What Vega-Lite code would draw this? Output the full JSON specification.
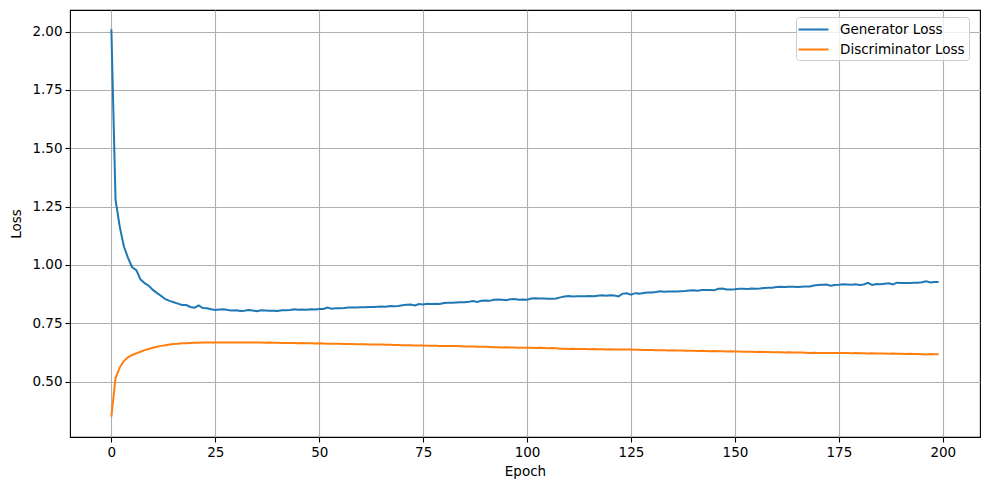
{
  "$schema": "https://vega.github.io/schema/vega-lite/v6.json",
  "autosize": "none",
  "width": 910,
  "height": 427,
  "padding": {"left": 70, "top": 10, "right": 9, "bottom": 53},
  "background": "white",
  "config": {
    "font": "DejaVu Sans",
    "view": {"stroke": "black", "strokeWidth": 1.1},
    "axis": {
      "domain": false,
      "grid": true,
      "gridColor": "#b0b0b0",
      "gridWidth": 1.1,
      "tickColor": "black",
      "tickSize": 5,
      "tickWidth": 1.1,
      "labelFont": "DejaVu Sans",
      "labelFontSize": 13.5,
      "labelColor": "black",
      "titleFont": "DejaVu Sans",
      "titleFontSize": 13.5,
      "titleFontWeight": "normal",
      "titleColor": "black",
      "labelPadding": 3
    }
  },
  "data": {
    "values": [
      {"epoch":0,"Generator Loss":2.010,"Discriminator Loss":0.350},
      {"epoch":1,"Generator Loss":1.280,"Discriminator Loss":0.515},
      {"epoch":2,"Generator Loss":1.165,"Discriminator Loss":0.560},
      {"epoch":3,"Generator Loss":1.080,"Discriminator Loss":0.588},
      {"epoch":4,"Generator Loss":1.030,"Discriminator Loss":0.604},
      {"epoch":5,"Generator Loss":0.990,"Discriminator Loss":0.614},
      {"epoch":6,"Generator Loss":0.978,"Discriminator Loss":0.621},
      {"epoch":7,"Generator Loss":0.938,"Discriminator Loss":0.628},
      {"epoch":8,"Generator Loss":0.922,"Discriminator Loss":0.635},
      {"epoch":9,"Generator Loss":0.911,"Discriminator Loss":0.640},
      {"epoch":10,"Generator Loss":0.893,"Discriminator Loss":0.645},
      {"epoch":11,"Generator Loss":0.879,"Discriminator Loss":0.649},
      {"epoch":12,"Generator Loss":0.867,"Discriminator Loss":0.653},
      {"epoch":13,"Generator Loss":0.853,"Discriminator Loss":0.656},
      {"epoch":14,"Generator Loss":0.846,"Discriminator Loss":0.659},
      {"epoch":15,"Generator Loss":0.840,"Discriminator Loss":0.661},
      {"epoch":16,"Generator Loss":0.834,"Discriminator Loss":0.662},
      {"epoch":17,"Generator Loss":0.828,"Discriminator Loss":0.664},
      {"epoch":18,"Generator Loss":0.828,"Discriminator Loss":0.664},
      {"epoch":19,"Generator Loss":0.820,"Discriminator Loss":0.665},
      {"epoch":20,"Generator Loss":0.817,"Discriminator Loss":0.666},
      {"epoch":21,"Generator Loss":0.826,"Discriminator Loss":0.666},
      {"epoch":22,"Generator Loss":0.815,"Discriminator Loss":0.667},
      {"epoch":23,"Generator Loss":0.814,"Discriminator Loss":0.667},
      {"epoch":24,"Generator Loss":0.810,"Discriminator Loss":0.668},
      {"epoch":25,"Generator Loss":0.807,"Discriminator Loss":0.668},
      {"epoch":26,"Generator Loss":0.809,"Discriminator Loss":0.667},
      {"epoch":27,"Generator Loss":0.810,"Discriminator Loss":0.668},
      {"epoch":28,"Generator Loss":0.807,"Discriminator Loss":0.668},
      {"epoch":29,"Generator Loss":0.805,"Discriminator Loss":0.668},
      {"epoch":30,"Generator Loss":0.806,"Discriminator Loss":0.667},
      {"epoch":31,"Generator Loss":0.803,"Discriminator Loss":0.668},
      {"epoch":32,"Generator Loss":0.804,"Discriminator Loss":0.667},
      {"epoch":33,"Generator Loss":0.807,"Discriminator Loss":0.667},
      {"epoch":34,"Generator Loss":0.805,"Discriminator Loss":0.667},
      {"epoch":35,"Generator Loss":0.802,"Discriminator Loss":0.667},
      {"epoch":36,"Generator Loss":0.806,"Discriminator Loss":0.667},
      {"epoch":37,"Generator Loss":0.805,"Discriminator Loss":0.666},
      {"epoch":38,"Generator Loss":0.804,"Discriminator Loss":0.667},
      {"epoch":39,"Generator Loss":0.804,"Discriminator Loss":0.666},
      {"epoch":40,"Generator Loss":0.803,"Discriminator Loss":0.666},
      {"epoch":41,"Generator Loss":0.806,"Discriminator Loss":0.665},
      {"epoch":42,"Generator Loss":0.806,"Discriminator Loss":0.665},
      {"epoch":43,"Generator Loss":0.807,"Discriminator Loss":0.665},
      {"epoch":44,"Generator Loss":0.810,"Discriminator Loss":0.665},
      {"epoch":45,"Generator Loss":0.808,"Discriminator Loss":0.664},
      {"epoch":46,"Generator Loss":0.809,"Discriminator Loss":0.665},
      {"epoch":47,"Generator Loss":0.808,"Discriminator Loss":0.664},
      {"epoch":48,"Generator Loss":0.810,"Discriminator Loss":0.664},
      {"epoch":49,"Generator Loss":0.809,"Discriminator Loss":0.663},
      {"epoch":50,"Generator Loss":0.811,"Discriminator Loss":0.664},
      {"epoch":51,"Generator Loss":0.811,"Discriminator Loss":0.663},
      {"epoch":52,"Generator Loss":0.817,"Discriminator Loss":0.662},
      {"epoch":53,"Generator Loss":0.812,"Discriminator Loss":0.662},
      {"epoch":54,"Generator Loss":0.814,"Discriminator Loss":0.662},
      {"epoch":55,"Generator Loss":0.814,"Discriminator Loss":0.662},
      {"epoch":56,"Generator Loss":0.815,"Discriminator Loss":0.661},
      {"epoch":57,"Generator Loss":0.817,"Discriminator Loss":0.661},
      {"epoch":58,"Generator Loss":0.818,"Discriminator Loss":0.661},
      {"epoch":59,"Generator Loss":0.818,"Discriminator Loss":0.660},
      {"epoch":60,"Generator Loss":0.819,"Discriminator Loss":0.660},
      {"epoch":61,"Generator Loss":0.819,"Discriminator Loss":0.660},
      {"epoch":62,"Generator Loss":0.820,"Discriminator Loss":0.659},
      {"epoch":63,"Generator Loss":0.820,"Discriminator Loss":0.659},
      {"epoch":64,"Generator Loss":0.821,"Discriminator Loss":0.659},
      {"epoch":65,"Generator Loss":0.822,"Discriminator Loss":0.659},
      {"epoch":66,"Generator Loss":0.821,"Discriminator Loss":0.658},
      {"epoch":67,"Generator Loss":0.824,"Discriminator Loss":0.658},
      {"epoch":68,"Generator Loss":0.823,"Discriminator Loss":0.657},
      {"epoch":69,"Generator Loss":0.824,"Discriminator Loss":0.657},
      {"epoch":70,"Generator Loss":0.827,"Discriminator Loss":0.656},
      {"epoch":71,"Generator Loss":0.829,"Discriminator Loss":0.656},
      {"epoch":72,"Generator Loss":0.830,"Discriminator Loss":0.656},
      {"epoch":73,"Generator Loss":0.826,"Discriminator Loss":0.655},
      {"epoch":74,"Generator Loss":0.832,"Discriminator Loss":0.655},
      {"epoch":75,"Generator Loss":0.830,"Discriminator Loss":0.655},
      {"epoch":76,"Generator Loss":0.834,"Discriminator Loss":0.654},
      {"epoch":77,"Generator Loss":0.833,"Discriminator Loss":0.654},
      {"epoch":78,"Generator Loss":0.834,"Discriminator Loss":0.654},
      {"epoch":79,"Generator Loss":0.833,"Discriminator Loss":0.653},
      {"epoch":80,"Generator Loss":0.837,"Discriminator Loss":0.653},
      {"epoch":81,"Generator Loss":0.838,"Discriminator Loss":0.652},
      {"epoch":82,"Generator Loss":0.838,"Discriminator Loss":0.652},
      {"epoch":83,"Generator Loss":0.839,"Discriminator Loss":0.652},
      {"epoch":84,"Generator Loss":0.840,"Discriminator Loss":0.651},
      {"epoch":85,"Generator Loss":0.840,"Discriminator Loss":0.650},
      {"epoch":86,"Generator Loss":0.842,"Discriminator Loss":0.650},
      {"epoch":87,"Generator Loss":0.845,"Discriminator Loss":0.650},
      {"epoch":88,"Generator Loss":0.841,"Discriminator Loss":0.649},
      {"epoch":89,"Generator Loss":0.846,"Discriminator Loss":0.649},
      {"epoch":90,"Generator Loss":0.848,"Discriminator Loss":0.649},
      {"epoch":91,"Generator Loss":0.846,"Discriminator Loss":0.648},
      {"epoch":92,"Generator Loss":0.851,"Discriminator Loss":0.647},
      {"epoch":93,"Generator Loss":0.852,"Discriminator Loss":0.647},
      {"epoch":94,"Generator Loss":0.851,"Discriminator Loss":0.646},
      {"epoch":95,"Generator Loss":0.849,"Discriminator Loss":0.647},
      {"epoch":96,"Generator Loss":0.853,"Discriminator Loss":0.646},
      {"epoch":97,"Generator Loss":0.854,"Discriminator Loss":0.646},
      {"epoch":98,"Generator Loss":0.851,"Discriminator Loss":0.645},
      {"epoch":99,"Generator Loss":0.852,"Discriminator Loss":0.645},
      {"epoch":100,"Generator Loss":0.851,"Discriminator Loss":0.645},
      {"epoch":101,"Generator Loss":0.856,"Discriminator Loss":0.645},
      {"epoch":102,"Generator Loss":0.857,"Discriminator Loss":0.644},
      {"epoch":103,"Generator Loss":0.856,"Discriminator Loss":0.645},
      {"epoch":104,"Generator Loss":0.856,"Discriminator Loss":0.644},
      {"epoch":105,"Generator Loss":0.855,"Discriminator Loss":0.643},
      {"epoch":106,"Generator Loss":0.855,"Discriminator Loss":0.644},
      {"epoch":107,"Generator Loss":0.856,"Discriminator Loss":0.643},
      {"epoch":108,"Generator Loss":0.861,"Discriminator Loss":0.641},
      {"epoch":109,"Generator Loss":0.865,"Discriminator Loss":0.641},
      {"epoch":110,"Generator Loss":0.867,"Discriminator Loss":0.640},
      {"epoch":111,"Generator Loss":0.865,"Discriminator Loss":0.641},
      {"epoch":112,"Generator Loss":0.866,"Discriminator Loss":0.640},
      {"epoch":113,"Generator Loss":0.866,"Discriminator Loss":0.640},
      {"epoch":114,"Generator Loss":0.866,"Discriminator Loss":0.640},
      {"epoch":115,"Generator Loss":0.867,"Discriminator Loss":0.639},
      {"epoch":116,"Generator Loss":0.866,"Discriminator Loss":0.640},
      {"epoch":117,"Generator Loss":0.868,"Discriminator Loss":0.639},
      {"epoch":118,"Generator Loss":0.870,"Discriminator Loss":0.639},
      {"epoch":119,"Generator Loss":0.868,"Discriminator Loss":0.638},
      {"epoch":120,"Generator Loss":0.870,"Discriminator Loss":0.639},
      {"epoch":121,"Generator Loss":0.869,"Discriminator Loss":0.638},
      {"epoch":122,"Generator Loss":0.865,"Discriminator Loss":0.638},
      {"epoch":123,"Generator Loss":0.877,"Discriminator Loss":0.637},
      {"epoch":124,"Generator Loss":0.878,"Discriminator Loss":0.638},
      {"epoch":125,"Generator Loss":0.872,"Discriminator Loss":0.637},
      {"epoch":126,"Generator Loss":0.879,"Discriminator Loss":0.636},
      {"epoch":127,"Generator Loss":0.877,"Discriminator Loss":0.636},
      {"epoch":128,"Generator Loss":0.880,"Discriminator Loss":0.635},
      {"epoch":129,"Generator Loss":0.882,"Discriminator Loss":0.635},
      {"epoch":130,"Generator Loss":0.882,"Discriminator Loss":0.635},
      {"epoch":131,"Generator Loss":0.884,"Discriminator Loss":0.634},
      {"epoch":132,"Generator Loss":0.887,"Discriminator Loss":0.634},
      {"epoch":133,"Generator Loss":0.885,"Discriminator Loss":0.634},
      {"epoch":134,"Generator Loss":0.886,"Discriminator Loss":0.633},
      {"epoch":135,"Generator Loss":0.886,"Discriminator Loss":0.634},
      {"epoch":136,"Generator Loss":0.886,"Discriminator Loss":0.633},
      {"epoch":137,"Generator Loss":0.887,"Discriminator Loss":0.633},
      {"epoch":138,"Generator Loss":0.888,"Discriminator Loss":0.632},
      {"epoch":139,"Generator Loss":0.890,"Discriminator Loss":0.632},
      {"epoch":140,"Generator Loss":0.891,"Discriminator Loss":0.632},
      {"epoch":141,"Generator Loss":0.889,"Discriminator Loss":0.631},
      {"epoch":142,"Generator Loss":0.892,"Discriminator Loss":0.632},
      {"epoch":143,"Generator Loss":0.893,"Discriminator Loss":0.631},
      {"epoch":144,"Generator Loss":0.893,"Discriminator Loss":0.630},
      {"epoch":145,"Generator Loss":0.891,"Discriminator Loss":0.631},
      {"epoch":146,"Generator Loss":0.898,"Discriminator Loss":0.630},
      {"epoch":147,"Generator Loss":0.899,"Discriminator Loss":0.630},
      {"epoch":148,"Generator Loss":0.895,"Discriminator Loss":0.629},
      {"epoch":149,"Generator Loss":0.895,"Discriminator Loss":0.630},
      {"epoch":150,"Generator Loss":0.896,"Discriminator Loss":0.629},
      {"epoch":151,"Generator Loss":0.898,"Discriminator Loss":0.629},
      {"epoch":152,"Generator Loss":0.898,"Discriminator Loss":0.628},
      {"epoch":153,"Generator Loss":0.897,"Discriminator Loss":0.628},
      {"epoch":154,"Generator Loss":0.899,"Discriminator Loss":0.628},
      {"epoch":155,"Generator Loss":0.898,"Discriminator Loss":0.627},
      {"epoch":156,"Generator Loss":0.899,"Discriminator Loss":0.628},
      {"epoch":157,"Generator Loss":0.901,"Discriminator Loss":0.627},
      {"epoch":158,"Generator Loss":0.902,"Discriminator Loss":0.627},
      {"epoch":159,"Generator Loss":0.902,"Discriminator Loss":0.626},
      {"epoch":160,"Generator Loss":0.905,"Discriminator Loss":0.626},
      {"epoch":161,"Generator Loss":0.906,"Discriminator Loss":0.626},
      {"epoch":162,"Generator Loss":0.905,"Discriminator Loss":0.625},
      {"epoch":163,"Generator Loss":0.906,"Discriminator Loss":0.626},
      {"epoch":164,"Generator Loss":0.906,"Discriminator Loss":0.625},
      {"epoch":165,"Generator Loss":0.905,"Discriminator Loss":0.625},
      {"epoch":166,"Generator Loss":0.906,"Discriminator Loss":0.625},
      {"epoch":167,"Generator Loss":0.907,"Discriminator Loss":0.624},
      {"epoch":168,"Generator Loss":0.908,"Discriminator Loss":0.623},
      {"epoch":169,"Generator Loss":0.912,"Discriminator Loss":0.624},
      {"epoch":170,"Generator Loss":0.914,"Discriminator Loss":0.623},
      {"epoch":171,"Generator Loss":0.915,"Discriminator Loss":0.623},
      {"epoch":172,"Generator Loss":0.916,"Discriminator Loss":0.622},
      {"epoch":173,"Generator Loss":0.911,"Discriminator Loss":0.623},
      {"epoch":174,"Generator Loss":0.914,"Discriminator Loss":0.622},
      {"epoch":175,"Generator Loss":0.915,"Discriminator Loss":0.622},
      {"epoch":176,"Generator Loss":0.917,"Discriminator Loss":0.623},
      {"epoch":177,"Generator Loss":0.916,"Discriminator Loss":0.622},
      {"epoch":178,"Generator Loss":0.915,"Discriminator Loss":0.621},
      {"epoch":179,"Generator Loss":0.917,"Discriminator Loss":0.622},
      {"epoch":180,"Generator Loss":0.914,"Discriminator Loss":0.621},
      {"epoch":181,"Generator Loss":0.916,"Discriminator Loss":0.621},
      {"epoch":182,"Generator Loss":0.923,"Discriminator Loss":0.620},
      {"epoch":183,"Generator Loss":0.914,"Discriminator Loss":0.621},
      {"epoch":184,"Generator Loss":0.918,"Discriminator Loss":0.620},
      {"epoch":185,"Generator Loss":0.917,"Discriminator Loss":0.620},
      {"epoch":186,"Generator Loss":0.919,"Discriminator Loss":0.620},
      {"epoch":187,"Generator Loss":0.921,"Discriminator Loss":0.619},
      {"epoch":188,"Generator Loss":0.916,"Discriminator Loss":0.620},
      {"epoch":189,"Generator Loss":0.924,"Discriminator Loss":0.619},
      {"epoch":190,"Generator Loss":0.923,"Discriminator Loss":0.619},
      {"epoch":191,"Generator Loss":0.923,"Discriminator Loss":0.618},
      {"epoch":192,"Generator Loss":0.922,"Discriminator Loss":0.619},
      {"epoch":193,"Generator Loss":0.924,"Discriminator Loss":0.618},
      {"epoch":194,"Generator Loss":0.924,"Discriminator Loss":0.618},
      {"epoch":195,"Generator Loss":0.926,"Discriminator Loss":0.617},
      {"epoch":196,"Generator Loss":0.930,"Discriminator Loss":0.616},
      {"epoch":197,"Generator Loss":0.925,"Discriminator Loss":0.618},
      {"epoch":198,"Generator Loss":0.927,"Discriminator Loss":0.617},
      {"epoch":199,"Generator Loss":0.927,"Discriminator Loss":0.617}
    ]
  },
  "transform": [
    {"fold": ["Generator Loss", "Discriminator Loss"], "as": ["series", "loss"]}
  ],
  "mark": {"type": "line", "strokeWidth": 2, "clip": true},
  "encoding": {
    "x": {
      "field": "epoch",
      "type": "quantitative",
      "scale": {"domain": [-9.95, 208.95], "nice": false, "zero": false},
      "axis": {"values": [0, 25, 50, 75, 100, 125, 150, 175, 200], "title": "Epoch", "titlePadding": 6, "labelFlush": false}
    },
    "y": {
      "field": "loss",
      "type": "quantitative",
      "scale": {"domain": [0.2625, 2.0925], "nice": false, "zero": false},
      "axis": {"values": [0.5, 0.75, 1.0, 1.25, 1.5, 1.75, 2.0], "format": ".2f", "title": "Loss", "titlePadding": 8, "labelFlush": false}
    },
    "color": {
      "field": "series",
      "type": "nominal",
      "scale": {"domain": ["Generator Loss", "Discriminator Loss"], "range": ["#1f77b4", "#ff7f0e"]},
      "legend": {
        "title": null,
        "orient": "none",
        "legendX": 726,
        "legendY": 7,
        "symbolType": "M-2,0H2",
        "symbolSize": 225,
        "symbolStrokeWidth": 2,
        "symbolOffset": 5,
        "labelFont": "DejaVu Sans",
        "labelFontSize": 13.5,
        "labelColor": "black",
        "labelOffset": 18,
        "rowPadding": 5,
        "padding": 4,
        "strokeColor": "#cccccc",
        "fillColor": "rgba(255,255,255,0.8)",
        "cornerRadius": 3
      }
    }
  }
}
